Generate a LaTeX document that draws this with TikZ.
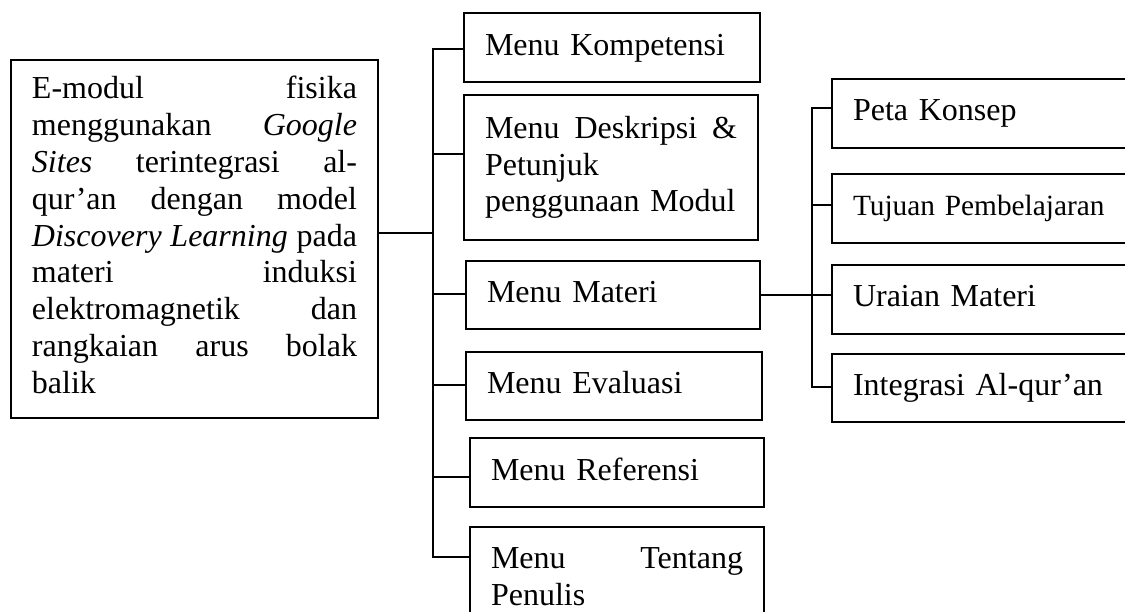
\documentclass[tikz,border=0pt]{standalone}
\usepackage{fontspec}
\setmainfont{Liberation Serif}
\newcommand\jline[1]{\leavevmode\hbox to \hsize{\strut #1}}
\begin{document}
\begin{tikzpicture}[x=0.375pt,y=-0.375pt,
  bx/.style={draw, line width=0.75pt, inner xsep=7.875pt, inner ysep=0pt,
    align=left, anchor=north west, font=\fontsize{12}{13.8}\selectfont},
  ln/.style={line width=0.75pt}]
\useasboundingbox (0,0) rectangle (1125,612);
\clip (0,0) rectangle (1125,612);
% main box
\node[bx, text width=121.875pt, minimum height=134.4pt] (main) at (10,58.6)
 {\jline{E-modul\hfill fisika}\\
  \jline{menggunakan\hfill\textit{Google}}\\
  \jline{\textit{Sites}\hfill terintegrasi\hfill al-}\\
  \jline{qur’an\hfill dengan\hfill model}\\
  \jline{\textit{Discovery}\hfill\textit{Learning}\hfill pada}\\
  \jline{materi\hfill induksi}\\
  \jline{elektromagnetik\hfill dan}\\
  \jline{rangkaian\hfill arus\hfill bolak}\\
  balik\strut};
% middle column
\node[bx, text width=95.25pt, minimum height=25.69pt] (kom) at (463,12.5) {\strut Menu Kompetensi};
\node[bx, text width=94.5pt, minimum height=54.19pt] (desk) at (463,94.5)
 {\jline{Menu\hfill Deskripsi\hfill \&}\\ Petunjuk\\ penggunaan Modul\strut};
\node[bx, text width=94.5pt, minimum height=25.5pt] (mat) at (465,260) {\strut Menu Materi};
\node[bx, text width=95.25pt, minimum height=25.5pt] (eva) at (465,351) {\strut Menu Evaluasi};
\node[bx, text width=94.5pt, minimum height=25.69pt] (ref) at (469,437.5) {\strut Menu Referensi};
\node[bx, text width=94.5pt, minimum height=39pt] (ten) at (469,526.5)
 {\jline{Menu\hfill Tentang}\\ Penulis\strut};
% right column
\node[bx, text width=100.125pt, minimum height=25.875pt] (peta) at (831,78) {\strut Peta Konsep};
\node[bx, text width=100.125pt, minimum height=25.875pt, font=\fontsize{11}{12.65}\selectfont] (tuj) at (831,173) {\strut Tujuan Pembelajaran};
\node[bx, text width=100.125pt, minimum height=25.875pt] (ura) at (831,264) {\strut Uraian Materi};
\node[bx, text width=100.125pt, minimum height=25.5pt] (integ) at (831,353) {\strut Integrasi Al-qur’an};
% left trunk
\coordinate (jm) at (433,233);
\coordinate (b1) at (433,49);
\coordinate (b2) at (433,154);
\coordinate (b3) at (433,294);
\coordinate (b4) at (433,385);
\coordinate (b5) at (433,477);
\coordinate (b6) at (433,557);
\draw[ln] (main.east |- jm) -- (jm);
\draw[ln] (b1 -| kom.west) -- (b1) -- (b6) -- (b6 -| ten.west);
\draw[ln] (b2) -- (b2 -| desk.west);
\draw[ln] (b3) -- (b3 -| mat.west);
\draw[ln] (b4) -- (b4 -| eva.west);
\draw[ln] (b5) -- (b5 -| ref.west);
% right trunk
\coordinate (r1) at (812,108);
\coordinate (r2) at (812,205);
\coordinate (r3) at (812,295);
\coordinate (r4) at (812,387);
\draw[ln] (mat.east |- r3) -- (r3);
\draw[ln] (r1 -| peta.west) -- (r1) -- (r4) -- (r4 -| integ.west);
\draw[ln] (r2) -- (r2 -| tuj.west);
\draw[ln] (r3) -- (r3 -| ura.west);
\end{tikzpicture}
\end{document}
